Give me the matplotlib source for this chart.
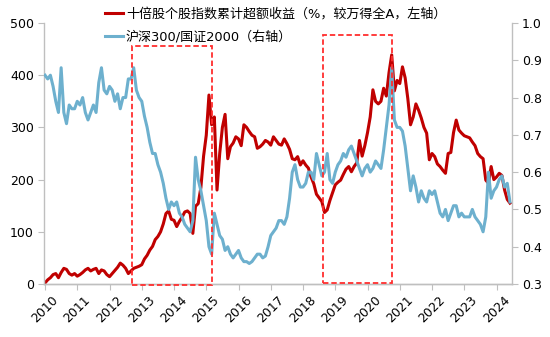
import numpy as np
import matplotlib
matplotlib.use('Agg')
import matplotlib.pyplot as plt
from matplotlib.patches import Rectangle

plt.rcParams['font.family'] = ['DejaVu Sans', 'Noto Sans CJK SC']

# ---- data (monthly, Jan 2010 .. Jun 2024) ----
start_year = 2010
year_labels = [str(y) for y in range(2010, 2025)]

tenbagger_excess = [
    2, 8, 12, 18, 20, 12, 22, 30, 28, 20, 17, 20,
    15, 18, 22, 27, 30, 25, 28, 30, 20, 27, 25, 18,
    14, 20, 26, 32, 40, 36, 30, 20, 25, 30, 32, 34,
    37, 48, 55, 65, 72, 85, 91, 100, 115, 135, 140, 124,
    122, 110, 120, 128, 138, 140, 135, 97, 149, 154, 185, 245,
    285, 362, 305, 320, 180, 250, 300, 325, 240, 263, 270, 282,
    278, 265, 305, 300, 292, 285, 282, 260, 263, 268, 275, 272,
    266, 282, 275, 268, 266, 278, 269, 258, 240, 238, 244, 228,
    236, 228, 222, 205, 192, 172, 165, 158, 137, 142, 160, 175,
    190, 195, 199, 210, 220, 225, 215, 225, 232, 275, 245, 265,
    290, 320, 372, 350, 345, 350, 375, 360, 405, 439, 370, 390,
    384, 416, 395, 355, 305, 320, 345, 333, 318, 300, 289, 238,
    250, 244, 230, 225, 218, 212, 250, 252, 290, 314, 295, 289,
    284, 282, 280, 272, 265, 250, 244, 240, 199, 193, 225, 200,
    205, 212, 208, 180, 162, 155,
]

hs300_csi2000 = [
    0.86, 0.85, 0.86, 0.83, 0.79, 0.76, 0.88, 0.76, 0.73, 0.78, 0.77, 0.77,
    0.79, 0.78, 0.80, 0.76, 0.74, 0.76, 0.78, 0.76, 0.84, 0.88, 0.82, 0.81,
    0.83, 0.82, 0.79, 0.81, 0.77, 0.80, 0.80, 0.85, 0.85, 0.88, 0.82, 0.80,
    0.79, 0.75, 0.72, 0.68, 0.65, 0.65, 0.62, 0.60, 0.57, 0.53, 0.50, 0.52,
    0.51, 0.52, 0.49, 0.48, 0.46, 0.45, 0.44, 0.47, 0.64, 0.58, 0.55, 0.51,
    0.47, 0.40, 0.38, 0.49, 0.46, 0.43, 0.42, 0.39, 0.40, 0.38, 0.37, 0.38,
    0.39, 0.37, 0.36, 0.36, 0.355, 0.36, 0.37, 0.38, 0.38, 0.37, 0.375, 0.40,
    0.43, 0.44, 0.45, 0.47, 0.47, 0.46, 0.48, 0.53, 0.60, 0.62, 0.58, 0.56,
    0.56, 0.57, 0.60, 0.60, 0.58, 0.65, 0.62, 0.59, 0.60, 0.65, 0.58, 0.57,
    0.60, 0.62, 0.63, 0.65, 0.64, 0.66, 0.67, 0.65, 0.63, 0.61, 0.59, 0.61,
    0.62, 0.60, 0.61, 0.63, 0.62, 0.61, 0.66, 0.72, 0.78, 0.88, 0.74, 0.72,
    0.72, 0.71, 0.67, 0.61, 0.55, 0.59, 0.56, 0.52, 0.55, 0.53, 0.52, 0.55,
    0.54, 0.55, 0.52, 0.49, 0.48, 0.50, 0.47, 0.49, 0.51, 0.51, 0.48, 0.49,
    0.48, 0.48, 0.48, 0.50, 0.48, 0.47, 0.46, 0.44, 0.48, 0.60, 0.53, 0.55,
    0.56, 0.58, 0.59, 0.56, 0.57, 0.52,
]

# highlighted periods (decimal years) and their vertical extent on the left axis
highlight_start = [2012.69, 2018.62]
highlight_end = [2015.19, 2020.77]
highlight_low = [-2, 2.5]
highlight_high = [456, 477]

label_red = '十倍股个股指数累计超额收益（%，较万得全A，左轴）'
label_blue = '沪深300/国证2000（右轴）'

# ---- plot ----
dates = start_year + np.arange(len(tenbagger_excess)) / 12.0

W, H = 550, 337
fig = plt.figure(figsize=(W / 100, H / 100), dpi=100)
ax = fig.add_axes([43.5 / W, 1 - 284 / H, (512 - 43.5) / W, (284 - 23) / H])
ax2 = ax.twinx()

red_c = '#C00000'
blue_c = '#6DB0CE'
grey = '#BFBFBF'

l1, = ax.plot(dates, tenbagger_excess, color=red_c, lw=2.2, label=label_red)
l2, = ax2.plot(dates, hs300_csi2000, color=blue_c, lw=2.2, label=label_blue)

for s, e, lo, hi in zip(highlight_start, highlight_end, highlight_low, highlight_high):
    ax2.add_patch(Rectangle((s, lo), e - s, hi - lo, transform=ax.transData,
                            fill=False, ec='#FF2E2E', lw=1.3, ls=(0, (3, 1.6)),
                            clip_on=False, zorder=5))

ax.set_xlim(2009.953, 2024.48)
ax.set_ylim(0, 500)
ax2.set_ylim(0.3, 1.0)
ax.set_yticks(np.arange(0, 501, 100))
ax2.set_yticks(np.arange(0.3, 1.01, 0.1))
ax2.set_yticklabels([f'{v:.1f}' for v in np.arange(0.3, 1.01, 0.1)])

tick_pos = [2010 + i for i in range(len(year_labels))]
ax.set_xticks(tick_pos)
ax.set_xticklabels(year_labels, rotation=45, ha='center', va='top')

for a in (ax, ax2):
    a.spines['top'].set_visible(False)
    for sp in a.spines.values():
        sp.set_color(grey)
        sp.set_linewidth(1.0)
ax2.spines['left'].set_visible(False)
ax.spines['right'].set_visible(False)

ax.tick_params(axis='y', direction='out', length=4, color=grey, labelsize=9, pad=3)
ax2.tick_params(axis='y', direction='out', length=4, color=grey, labelsize=9, pad=3)
ax.tick_params(axis='x', direction='out', length=4, color=grey, labelsize=9, pad=3)

fig.legend([l1, l2], [label_red, label_blue], loc='upper left',
           bbox_to_anchor=(105 / W, 1 - 8 / H), frameon=False, fontsize=9.4,
           handlelength=1.4, handletextpad=0.2, labelspacing=0.75,
           borderpad=0, borderaxespad=0)

fig.savefig('out.png', dpi=100)
